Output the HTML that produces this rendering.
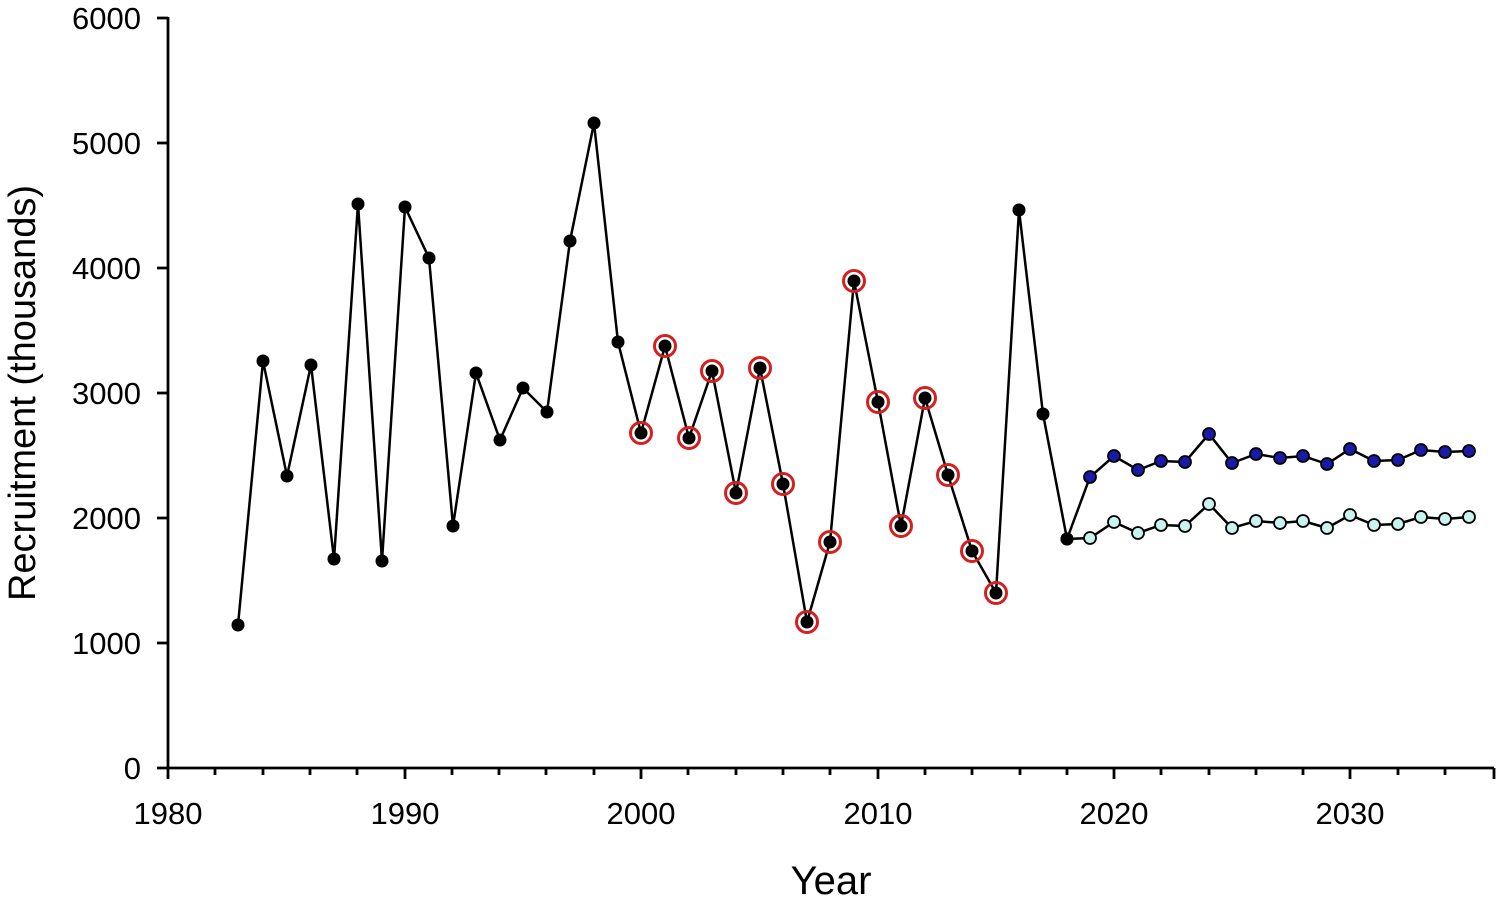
<!DOCTYPE html>
<html><head><meta charset="utf-8"><style>html,body{margin:0;padding:0;background:#fff}</style></head>
<body>
<svg width="1500" height="899" xmlns="http://www.w3.org/2000/svg" font-family="Liberation Sans, sans-serif">
<rect width="1500" height="899" fill="#fff"/>
<g stroke="#000" stroke-width="2.8" fill="none">
<line x1="168" y1="17" x2="168" y2="769"/>
<line x1="167" y1="768" x2="1494" y2="768"/>
<path d="M157 18H168M157 143H168M157 268H168M157 393H168M157 518H168M157 643H168M157 768H168"/>
<path d="M168 768V779M405 768V779M641 768V779M878 768V779M1114 768V779M1350 768V779M1494 768V779"/>
<path d="M215 768V775M263 768V775M310 768V775M357 768V775M452 768V775M499 768V775M546 768V775M594 768V775M688 768V775M736 768V775M783 768V775M830 768V775M925 768V775M972 768V775M1020 768V775M1067 768V775M1161 768V775M1209 768V775M1256 768V775M1303 768V775M1398 768V775M1445 768V775"/>
</g>
<g font-size="31" text-anchor="end" fill="#000">
<text x="141" y="29">6000</text><text x="141" y="154">5000</text><text x="141" y="279">4000</text><text x="141" y="404">3000</text><text x="141" y="529">2000</text><text x="141" y="654">1000</text><text x="141" y="779">0</text>
</g>
<g font-size="31" text-anchor="middle" fill="#000">
<text x="168" y="824">1980</text><text x="405" y="824">1990</text><text x="641" y="824">2000</text><text x="878" y="824">2010</text><text x="1114" y="824">2020</text><text x="1350" y="824">2030</text>
</g>
<text x="831" y="894" font-size="40" text-anchor="middle">Year</text>
<text transform="translate(35,393) rotate(-90)" font-size="38" text-anchor="middle">Recruitment (thousands)</text>
<g fill="none" stroke="#000" stroke-width="2.5">
<polyline points="238,625 263,361 287,476 311,365 334,559 358,204 382,561 405,207 429,258 453,526 476,373 500,440 523,388 547,412 570,241 594,123 618,342 641,433 665,346 689,438 712,371 736,493 760,368 783,484 807,622 830,542 854,281 878,402 901,526 925,398 948,475 972,551 996,593 1019,210 1043,414 1067,539"/>
<polyline points="1067,539 1090,477 1114,456 1138,470 1161,461 1185,462 1209,434 1232,463 1256,454 1280,458 1303,456 1327,464 1350,449 1374,461 1398,460 1421,450 1445,452 1469,451"/>
<polyline points="1067,539 1090,538 1114,522 1138,533 1161,525 1185,526 1209,504 1232,528 1256,521 1280,523 1303,521 1327,528 1350,515 1374,525 1398,524 1421,517 1445,519 1469,517"/>
</g>
<g fill="none" stroke="#d42020" stroke-width="3">
<circle cx="641" cy="433" r="10.5"/><circle cx="665" cy="346" r="10.5"/><circle cx="689" cy="438" r="10.5"/><circle cx="712" cy="371" r="10.5"/><circle cx="736" cy="493" r="10.5"/><circle cx="760" cy="368" r="10.5"/><circle cx="783" cy="484" r="10.5"/><circle cx="807" cy="622" r="10.5"/><circle cx="830" cy="542" r="10.5"/><circle cx="854" cy="281" r="10.5"/><circle cx="878" cy="402" r="10.5"/><circle cx="901" cy="526" r="10.5"/><circle cx="925" cy="398" r="10.5"/><circle cx="948" cy="475" r="10.5"/><circle cx="972" cy="551" r="10.5"/><circle cx="996" cy="593" r="10.5"/>
</g>
<g fill="#000">
<circle cx="238" cy="625" r="6.5"/><circle cx="263" cy="361" r="6.5"/><circle cx="287" cy="476" r="6.5"/><circle cx="311" cy="365" r="6.5"/><circle cx="334" cy="559" r="6.5"/><circle cx="358" cy="204" r="6.5"/><circle cx="382" cy="561" r="6.5"/><circle cx="405" cy="207" r="6.5"/><circle cx="429" cy="258" r="6.5"/><circle cx="453" cy="526" r="6.5"/><circle cx="476" cy="373" r="6.5"/><circle cx="500" cy="440" r="6.5"/><circle cx="523" cy="388" r="6.5"/><circle cx="547" cy="412" r="6.5"/><circle cx="570" cy="241" r="6.5"/><circle cx="594" cy="123" r="6.5"/><circle cx="618" cy="342" r="6.5"/><circle cx="641" cy="433" r="6.5"/><circle cx="665" cy="346" r="6.5"/><circle cx="689" cy="438" r="6.5"/><circle cx="712" cy="371" r="6.5"/><circle cx="736" cy="493" r="6.5"/><circle cx="760" cy="368" r="6.5"/><circle cx="783" cy="484" r="6.5"/><circle cx="807" cy="622" r="6.5"/><circle cx="830" cy="542" r="6.5"/><circle cx="854" cy="281" r="6.5"/><circle cx="878" cy="402" r="6.5"/><circle cx="901" cy="526" r="6.5"/><circle cx="925" cy="398" r="6.5"/><circle cx="948" cy="475" r="6.5"/><circle cx="972" cy="551" r="6.5"/><circle cx="996" cy="593" r="6.5"/><circle cx="1019" cy="210" r="6.5"/><circle cx="1043" cy="414" r="6.5"/><circle cx="1067" cy="539" r="6.5"/>
</g>
<g fill="#1a1aa8" stroke="#000" stroke-width="1.8">
<circle cx="1090" cy="477" r="6"/><circle cx="1114" cy="456" r="6"/><circle cx="1138" cy="470" r="6"/><circle cx="1161" cy="461" r="6"/><circle cx="1185" cy="462" r="6"/><circle cx="1209" cy="434" r="6"/><circle cx="1232" cy="463" r="6"/><circle cx="1256" cy="454" r="6"/><circle cx="1280" cy="458" r="6"/><circle cx="1303" cy="456" r="6"/><circle cx="1327" cy="464" r="6"/><circle cx="1350" cy="449" r="6"/><circle cx="1374" cy="461" r="6"/><circle cx="1398" cy="460" r="6"/><circle cx="1421" cy="450" r="6"/><circle cx="1445" cy="452" r="6"/><circle cx="1469" cy="451" r="6"/>
</g>
<g fill="#c8f4ee" stroke="#000" stroke-width="1.8">
<circle cx="1090" cy="538" r="6"/><circle cx="1114" cy="522" r="6"/><circle cx="1138" cy="533" r="6"/><circle cx="1161" cy="525" r="6"/><circle cx="1185" cy="526" r="6"/><circle cx="1209" cy="504" r="6"/><circle cx="1232" cy="528" r="6"/><circle cx="1256" cy="521" r="6"/><circle cx="1280" cy="523" r="6"/><circle cx="1303" cy="521" r="6"/><circle cx="1327" cy="528" r="6"/><circle cx="1350" cy="515" r="6"/><circle cx="1374" cy="525" r="6"/><circle cx="1398" cy="524" r="6"/><circle cx="1421" cy="517" r="6"/><circle cx="1445" cy="519" r="6"/><circle cx="1469" cy="517" r="6"/>
</g>
<circle cx="1067" cy="539" r="6.5" fill="#000"/>
</svg>
</body></html>
